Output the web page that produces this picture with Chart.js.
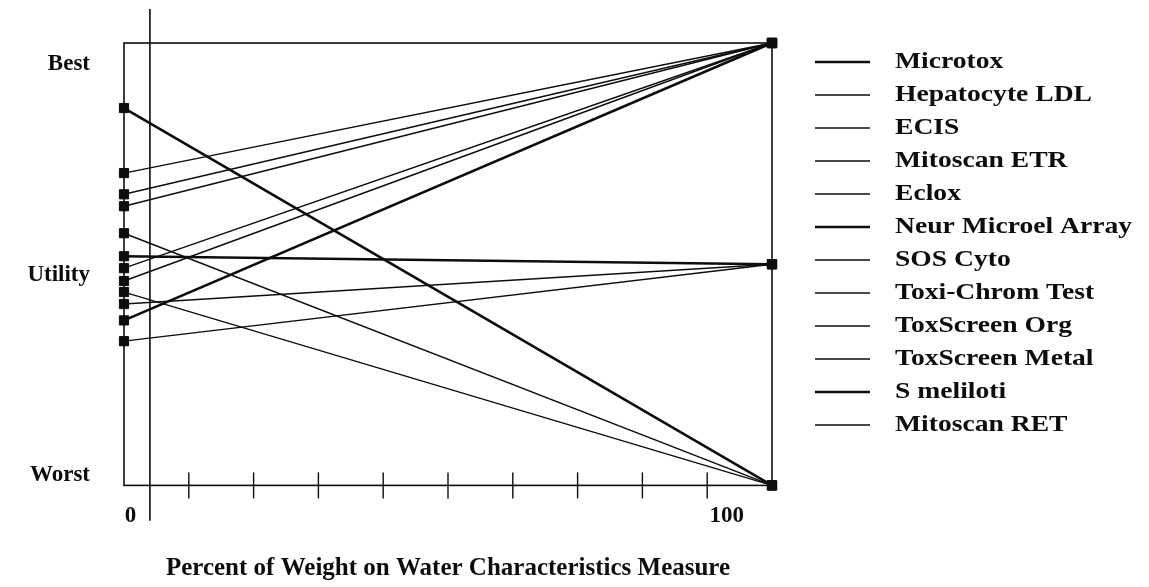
<!DOCTYPE html>
<html>
<head>
<meta charset="utf-8">
<script src="https://cdn.jsdelivr.net/npm/chart.js@4.4.1/dist/chart.umd.min.js"></script>
<style>
  html, body { margin: 0; padding: 0; background: #fff; }
  #wrap { width: 1149px; height: 587px; }
</style>
</head>
<body>
<div id="wrap"><canvas id="chart"></canvas></div>
<script>
// tests, in legend order
const testNames = ['Microtox', 'Hepatocyte LDL', 'ECIS', 'Mitoscan ETR', 'Eclox', 'Neur Microel Array',
  'SOS Cyto', 'Toxi-Chrom Test', 'ToxScreen Org', 'ToxScreen Metal', 'S meliloti', 'Mitoscan RET']
// utility (0 = worst, 1 = best) at 0% and at 100% weight
const utilityAt0 = [0.853, 0.706, 0.658, 0.631, 0.570, 0.518, 0.491, 0.462, 0.437, 0.410, 0.373, 0.326]
const utilityAt100 = [0, 1, 1, 1, 0, 0.5, 1, 1, 0, 0.5, 1, 0.5]
const weights = [0, 100]
const heavyLines = ['Microtox', 'Neur Microel Array', 'S meliloti']
const currentWeight = 4

const xTickMarks = [10, 20, 30, 40, 50, 60, 70, 80, 90]
const xTickLabels = ['0', '100']
const xTickLabelAt = [1, 93]
const yTickLabels = ['Worst', 'Utility', 'Best']
const yTickLabelAt = [0.023, 0.475, 0.952]

const ink = '#0d0d0d'
const serif = "'Liberation Serif', 'Times New Roman', serif"
Chart.defaults.font = { family: serif, size: 23, weight: 'bold', lineHeight: 1.2 }
Chart.defaults.color = ink

const lineSets = testNames.map((name, i) => {
  const heavy = heavyLines.includes(name)
  return {
    label: name,
    data: weights.map((w, k) => ({ x: w, y: k === 0 ? utilityAt0[i] : utilityAt100[i] })),
    borderColor: ink,
    backgroundColor: ink,
    borderWidth: heavy ? 2.6 : 1.4,
    pointStyle: 'rect',
    pointRadius: 6.5,
    pointBorderWidth: 1,
    pointBorderColor: ink,
    pointBackgroundColor: ink,
    clip: false
  }
})

const tickSet = {
  label: 'ticks',
  data: xTickMarks.map(v => ({ x: v, y: 0 })),
  showLine: false,
  pointStyle: 'line',
  pointRotation: 90,
  pointRadius: 13,
  pointBorderWidth: 1.4,
  pointBorderColor: ink,
  clip: false
}

const weightMarker = {
  label: 'current weight',
  data: [{ x: currentWeight, y: -0.08 }, { x: currentWeight, y: 1.077 }],
  borderColor: ink,
  borderWidth: 1.6,
  pointRadius: 0,
  clip: false
}

const framePlugin = {
  id: 'frame',
  beforeDatasetsDraw(chart) {
    const { ctx, chartArea: a } = chart
    ctx.save()
    ctx.strokeStyle = ink
    ctx.lineWidth = 1.6
    ctx.strokeRect(a.left, a.top, a.right - a.left, a.bottom - a.top)
    ctx.restore()
  }
}

// legend to the right of the plot, text a little wide like the scanned original
const sideLegend = {
  id: 'sideLegend',
  afterDraw(chart) {
    const { ctx, chartArea: a } = chart
    const lineX = a.right + 43, lineLen = 55, textX = a.right + 123
    const firstY = a.top + 19, rowH = 33, stretch = 1.2
    ctx.save()
    ctx.strokeStyle = ink
    ctx.fillStyle = ink
    ctx.font = 'bold 23px ' + serif
    ctx.textBaseline = 'middle'
    chart.data.datasets.slice(0, testNames.length).forEach((ds, i) => {
      const y = firstY + i * rowH
      ctx.lineWidth = ds.borderWidth
      ctx.beginPath()
      ctx.moveTo(lineX, y)
      ctx.lineTo(lineX + lineLen, y)
      ctx.stroke()
      ctx.save()
      ctx.translate(textX, y)
      ctx.scale(stretch, 1)
      ctx.fillText(ds.label, 0, 0)
      ctx.restore()
    })
    ctx.restore()
  }
}

new Chart(document.getElementById('chart'), {
  type: 'line',
  data: { datasets: [...lineSets, tickSet, weightMarker] },
  plugins: [framePlugin, sideLegend],
  options: {
    responsive: true,
    maintainAspectRatio: false,
    animation: false,
    events: [],
    layout: { padding: { top: 43, right: 377, bottom: 0, left: 10 } },
    plugins: {
      tooltip: { enabled: false },
      legend: { display: false }
    },
    scales: {
      x: {
        type: 'linear',
        min: 0,
        max: 100,
        afterBuildTicks: s => { s.ticks = xTickLabelAt.map(v => ({ value: v })) },
        ticks: { padding: 17, autoSkip: false, maxRotation: 0, callback: (v, i) => xTickLabels[i] },
        grid: { display: false, drawTicks: false },
        border: { display: false },
        title: {
          display: true,
          text: 'Percent of Weight on Water Characteristics Measure',
          font: { size: 25 },
          padding: { top: 7, bottom: 3 }
        }
      },
      y: {
        min: 0,
        max: 1,
        afterBuildTicks: s => { s.ticks = yTickLabelAt.map(v => ({ value: v })) },
        afterFit: s => { s.width = 114; s.paddingTop = 0; s.paddingBottom = 0 },
        ticks: { padding: 34, autoSkip: false, callback: (v, i) => yTickLabels[i] },
        grid: { display: false, drawTicks: false },
        border: { display: false }
      }
    }
  }
})
</script>
</body>
</html>
